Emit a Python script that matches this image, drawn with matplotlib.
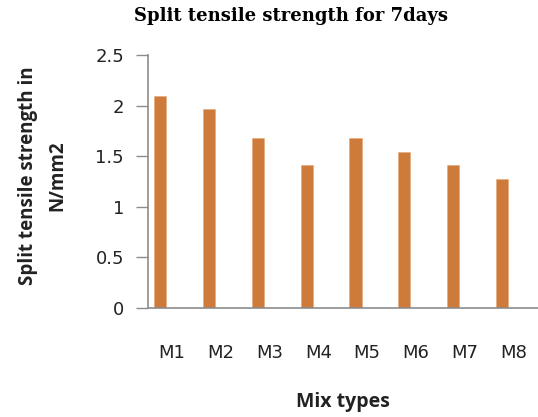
import numpy as np
import matplotlib
matplotlib.use("Agg")
import matplotlib.pyplot as plt

# Datos
mezclas = ["M1", "M2", "M3", "M4", "M5", "M6", "M7", "M8"]
resistencia = [2.10, 1.97, 1.68, 1.41, 1.68, 1.54, 1.41, 1.27]
y_ticks = [0, 0.5, 1, 1.5, 2, 2.5]
y_tick_labels = ["0", "0.5", "1", "1.5", "2", "2.5"]

color_barra = "#CD7A3A"
color_eje = "#8C8C8C"

fig = plt.figure(figsize=(5.38, 4.17), dpi=100)
ax = fig.add_axes([0.2745, 0.2614, 0.7255, 0.6066])

x = np.arange(len(mezclas))
ax.bar(x - 0.24, resistencia, width=0.25, color=color_barra,
       edgecolor="#E8A878", linewidth=0.4)

ax.set_xlim(-0.5, len(mezclas) - 0.5)
ax.set_ylim(0, 2.5)
ax.set_yticks(y_ticks)
ax.set_yticklabels(y_tick_labels, fontsize=13, color="#222222")
ax.set_xticks(x)
ax.set_xticklabels(mezclas, fontsize=13, color="#222222")
ax.tick_params(axis="x", length=0, pad=26)
ax.tick_params(axis="y", length=9, width=1, color=color_eje, pad=8)

for lado in ["top", "right"]:
    ax.spines[lado].set_visible(False)
ax.spines["left"].set_color(color_eje)
ax.spines["bottom"].set_color(color_eje)
ax.spines["left"].set_linewidth(1.2)
ax.spines["bottom"].set_linewidth(1.2)

# Textos
fig.text(0.54, 0.962, "Split tensile strength for 7days", ha="center", va="center",
         fontsize=13, fontweight="bold", family="DejaVu Serif")
fig.text(0.6375, 0.036, "Mix types", ha="center", va="center",
         fontsize=14, fontweight="bold", family="Open Sans", color="#222222")
fig.text(0.052, 0.578, "Split tensile strength in", ha="center", va="center",
         rotation=90, fontsize=13.5, fontweight="bold", family="Open Sans", color="#222222")
fig.text(0.106, 0.578, "N/mm2", ha="center", va="center",
         rotation=90, fontsize=13.5, fontweight="bold", family="Open Sans", color="#222222")

plt.savefig("out.png", dpi=100)
